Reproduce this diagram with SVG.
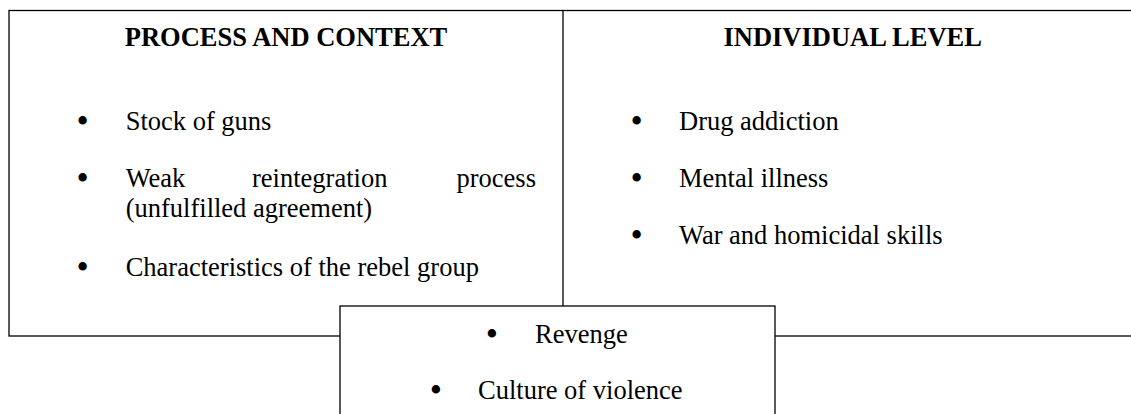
<svg xmlns="http://www.w3.org/2000/svg" width="1131" height="414" viewBox="0 0 1131 414">
  <style>
    .ln { fill: none; stroke: #000; stroke-width: 1.3; }
    .box { fill: #fff; stroke: #000; stroke-width: 1.3; }
    .t { font-family: "Liberation Serif", "Times New Roman", serif; font-size: 26.5px; fill: #000; }
    .h { font-weight: bold; text-anchor: middle; }
    .b { text-anchor: middle; font-size: 35px; }
    .e { text-anchor: end; }
  </style>
  <rect width="1131" height="414" fill="#fff"/>
  <g id="frame">
    <rect class="ln" x="9" y="10.5" width="1135" height="325.5"/>
    <line class="ln" x1="563" y1="10.5" x2="563" y2="306"/>
  </g>
  <g id="process-and-context">
    <text class="t h" x="286" y="46">PROCESS AND CONTEXT</text>
    <text class="t b" x="82.7" y="133">•</text>
    <text class="t" x="125.7" y="130">Stock of guns</text>
    <text class="t b" x="82.7" y="190">•</text>
    <text class="t" x="125.7" y="187">Weak</text>
    <text class="t" x="252" y="187">reintegration</text>
    <text class="t e" x="536" y="187">process</text>
    <text class="t" x="125.7" y="217">(unfulfilled agreement)</text>
    <text class="t b" x="82.7" y="279">•</text>
    <text class="t" x="125.7" y="276">Characteristics of the rebel group</text>
  </g>
  <g id="individual-level">
    <text class="t h" x="852.7" y="46">INDIVIDUAL LEVEL</text>
    <text class="t b" x="636.7" y="133">•</text>
    <text class="t" x="679" y="130">Drug addiction</text>
    <text class="t b" x="636.7" y="190">•</text>
    <text class="t" x="679" y="187">Mental illness</text>
    <text class="t b" x="636.7" y="247">•</text>
    <text class="t" x="679" y="244">War and homicidal skills</text>
  </g>
  <g id="shared-factors">
    <rect class="box" x="340" y="306" width="435" height="120"/>
    <text class="t b" x="492" y="346">•</text>
    <text class="t" x="535" y="343">Revenge</text>
    <text class="t b" x="436" y="402">•</text>
    <text class="t" x="478" y="399">Culture of violence</text>
  </g>
  <g id="connectors"></g>
</svg>
